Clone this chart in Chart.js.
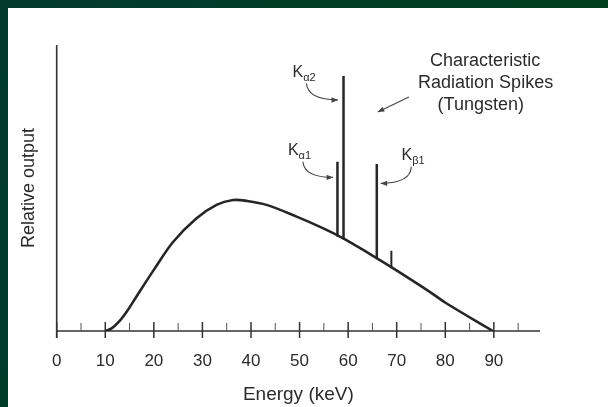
<!DOCTYPE html>
<html>
<head>
<meta charset="utf-8">
<script src="https://cdn.jsdelivr.net/npm/chart.js@4/dist/chart.umd.min.js"></script>
<style>
  html, body { margin: 0; padding: 0; }
  body {
    width: 608px; height: 407px; overflow: hidden;
    background: linear-gradient(120deg, #03392f 0%, #013e22 55%, #004016 100%);
  }
  #panel { position: absolute; left: 8px; top: 8px; width: 600px; height: 399px; background: #fff; }
  #chart { display: block; }
</style>
</head>
<body>
<div id="panel"><canvas id="chart" width="600" height="399"></canvas></div>
<script>
// continuous (bremsstrahlung) spectrum
const energy = [10, 11.3, 13.1, 14.4, 16.4, 20.2, 24, 28.8, 32.9, 36.3, 39.1, 43.2, 49.4, 54.9, 59, 64.5, 69.3, 76.8, 80.2, 89.8];
const output = [0, 0.9, 3.8, 6.7, 12.0, 21.9, 31.2, 39.4, 44.1, 45.8, 45.5, 44.1, 40.0, 35.9, 32.4, 26.9, 21.9, 13.7, 9.7, 0];

// characteristic lines: Kα1, Kα2, Kβ1, small Kβ2
const spikeEnergy = [57.8, 59.05, 65.9, 68.9];
const spikeBase = [33.0, 32.1, 25.4, 21.9];
const spikeTop = [59.2, 89.2, 58.4, 28.1];

const xTickLabels = [0, 10, 20, 30, 40, 50, 60, 70, 80, 90];
const xMinorTicks = [5, 15, 25, 35, 45, 55, 65, 75, 85, 95];

const ink = '#262626';

const datasets = [{
  data: energy.map((e, i) => ({ x: e, y: output[i] })),
  borderColor: ink, borderWidth: 2.6, pointRadius: 0,
  tension: 0.35, fill: false,
}];
spikeEnergy.forEach((e, i) => {
  datasets.push({
    data: [{ x: e, y: spikeBase[i] }, { x: e, y: spikeTop[i] }],
    borderColor: ink, borderWidth: i === 3 ? 2 : 2.5, pointRadius: 0,
  });
});

// axes with long/short ticks and the text callouts
const drawing = {
  id: 'drawing',
  beforeDatasetsDraw(chart) {
    const { ctx, scales: { x, y } } = chart;
    const y0 = y.getPixelForValue(0);
    const x0 = x.getPixelForValue(0);
    ctx.save();
    ctx.strokeStyle = '#333';
    ctx.lineWidth = 1.6;
    ctx.beginPath();
    ctx.moveTo(x0, y.getPixelForValue(y.max));
    ctx.lineTo(x0, y0 + 7);
    ctx.moveTo(x0, y0);
    ctx.lineTo(x.getPixelForValue(x.max), y0);
    ctx.stroke();
    ctx.lineWidth = 1.5;
    ctx.beginPath();
    xTickLabels.forEach(v => {
      const px = x.getPixelForValue(v);
      ctx.moveTo(px, y0 - 9);
      ctx.lineTo(px, y0 + 7);
    });
    ctx.stroke();
    ctx.lineWidth = 1;
    ctx.strokeStyle = '#555';
    ctx.beginPath();
    xMinorTicks.forEach(v => {
      const px = x.getPixelForValue(v);
      ctx.moveTo(px, y0 - 8);
      ctx.lineTo(px, y0);
    });
    ctx.stroke();
    ctx.restore();
  },
  afterDatasetsDraw(chart) {
    const { ctx, scales: { x, y } } = chart;
    const P = (a, b) => [x.getPixelForValue(a), y.getPixelForValue(b)];
    ctx.save();
    ctx.fillStyle = '#2b2b2b';
    ctx.textAlign = 'center';
    ctx.textBaseline = 'middle';
    ctx.font = '18px "Liberation Sans", Arial, sans-serif';
    [['Characteristic', 88.2, 94.5], ['Radiation Spikes', 88.3, 86.8], ['(Tungsten)', 87.3, 79.0]]
      .forEach(([t, a, b]) => ctx.fillText(t, ...P(a, b)));

    ctx.textAlign = 'left';
    ctx.textBaseline = 'alphabetic';
    [['\u03b12', 48.56, 88.9], ['\u03b11', 47.6, 61.5], ['\u03b21', 71.0, 59.8]].forEach(([sub, a, b]) => {
      const [px, py] = P(a, b);
      ctx.font = '16px "Liberation Sans", Arial, sans-serif';
      ctx.fillText('K', px, py);
      const w = ctx.measureText('K').width;
      ctx.font = '11px "Liberation Sans", Arial, sans-serif';
      ctx.fillText(sub, px + w, py + 4);
    });

    const arrow = (s, c, e) => {
      const [sx, sy] = P(...s), [ex, ey] = P(...e);
      const [cx, cy] = c ? P(...c) : [sx, sy];
      ctx.beginPath();
      ctx.moveTo(sx, sy);
      ctx.quadraticCurveTo(cx, cy, ex, ey);
      ctx.stroke();
      const ang = Math.atan2(ey - cy, ex - cx);
      ctx.beginPath();
      ctx.moveTo(ex, ey);
      ctx.lineTo(ex - 7 * Math.cos(ang - 0.4), ey - 7 * Math.sin(ang - 0.4));
      ctx.lineTo(ex - 7 * Math.cos(ang + 0.4), ey - 7 * Math.sin(ang + 0.4));
      ctx.closePath();
      ctx.fill();
    };
    ctx.strokeStyle = '#444';
    ctx.fillStyle = '#444';
    ctx.lineWidth = 1.1;
    arrow([51.4, 86.6], [51.7, 80.8], [57.9, 80.8]);
    arrow([50.7, 59.2], [50.9, 53.8], [56.9, 53.7]);
    arrow([73.0, 57.4], [72.9, 51.7], [66.7, 51.6]);
    arrow([72.5, 81.8], null, [66.1, 76.6]);
    ctx.restore();
  }
};

new Chart(document.getElementById('chart'), {
  type: 'line',
  data: { datasets },
  options: {
    responsive: false,
    animation: false,
    events: [],
    layout: { padding: { top: 37, right: 68, left: 0, bottom: 0 } },
    plugins: { legend: { display: false }, tooltip: { enabled: false } },
    scales: {
      x: {
        type: 'linear', min: 0, max: 99.5,
        grid: { display: false, drawTicks: false },
        border: { display: false },
        afterBuildTicks: s => { s.ticks = xTickLabels.map(v => ({ value: v })); },
        afterFit: s => { s.height = 76; },
        ticks: { color: '#2b2b2b', padding: 20, maxRotation: 0, autoSkip: false,
          font: { family: '"Liberation Sans", Arial, sans-serif', size: 17 } },
        title: { display: true, text: 'Energy (keV)', color: '#2b2b2b', padding: { top: 4, bottom: 1 },
          font: { family: '"Liberation Sans", Arial, sans-serif', size: 19 } },
      },
      y: {
        type: 'linear', min: 0, max: 100,
        grid: { display: false, drawTicks: false },
        border: { display: false },
        ticks: { display: false },
        afterFit: s => { s.width = 48.7; },
        title: { display: true, text: 'Relative output', color: '#2b2b2b', padding: { top: 10, bottom: 4 },
          font: { family: '"Liberation Sans", Arial, sans-serif', size: 18 } },
      },
    },
  },
  plugins: [drawing],
});
</script>
</body>
</html>
